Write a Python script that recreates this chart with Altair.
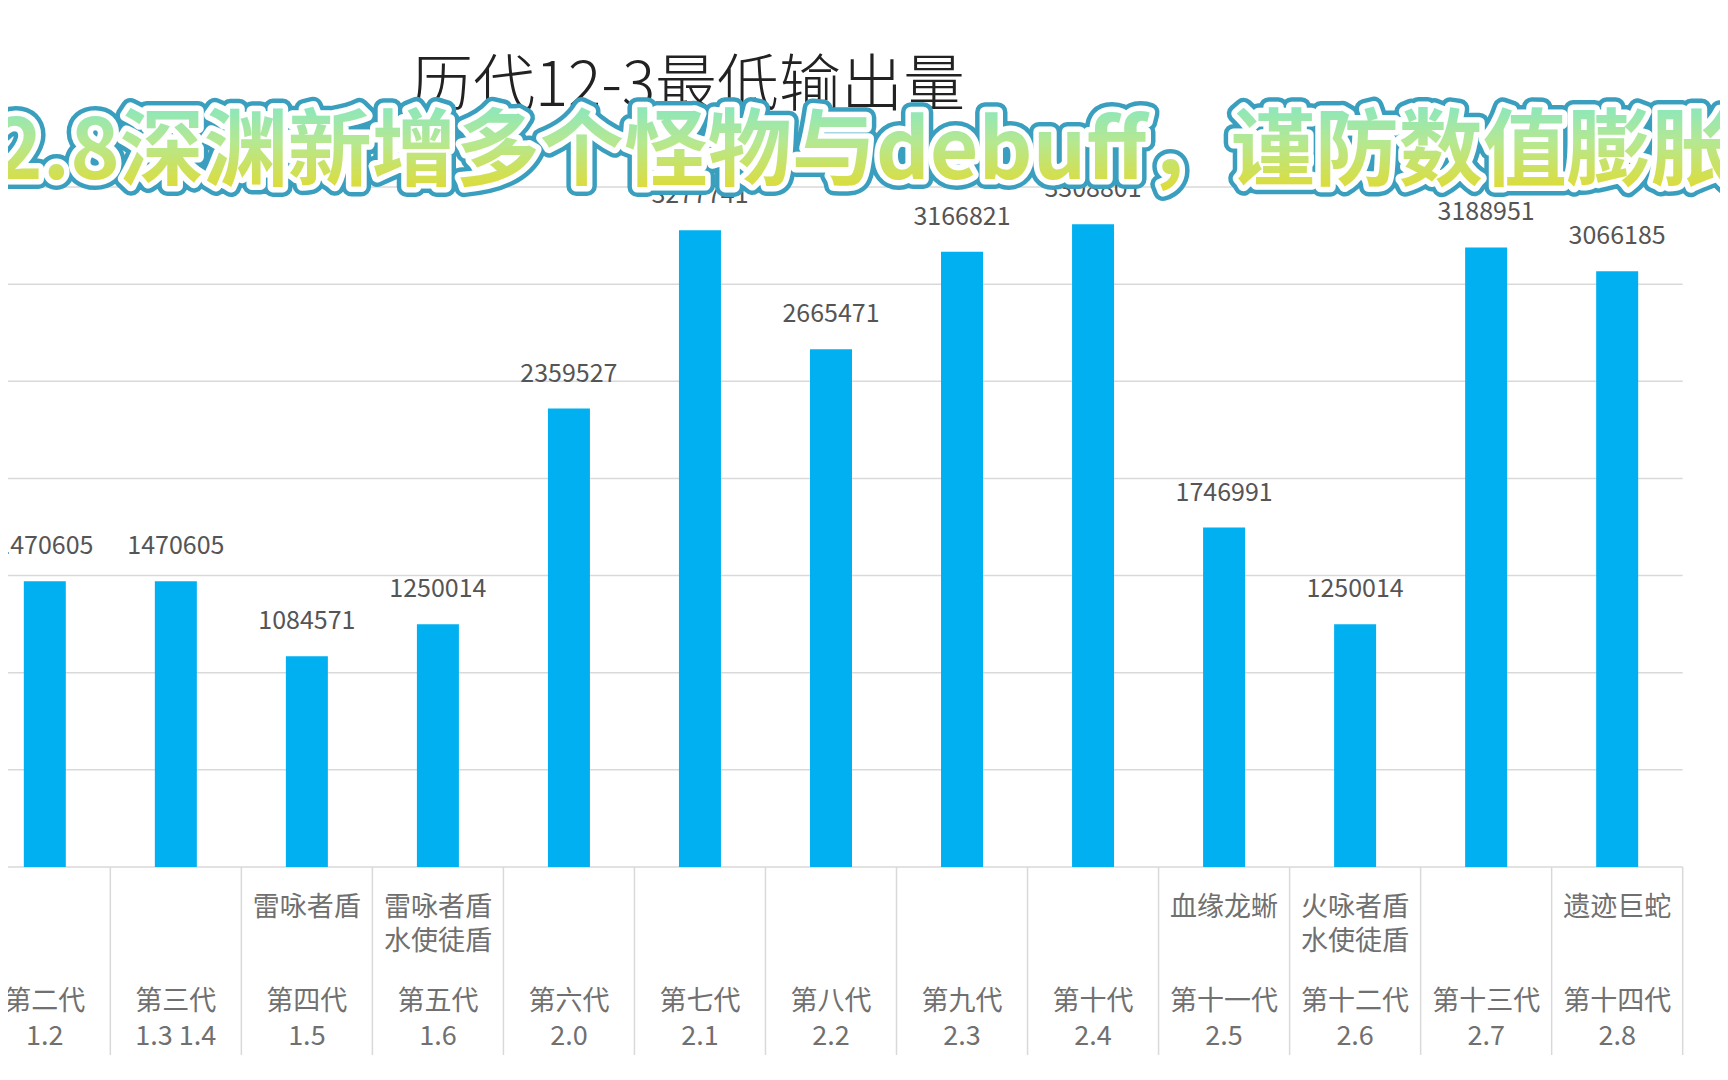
import altair as alt
import pandas as pd

# ---- data ----
generations = ["第二代", "第三代", "第四代", "第五代", "第六代", "第七代", "第八代",
               "第九代", "第十代", "第十一代", "第十二代", "第十三代", "第十四代"]
versions = ["1.2", "1.3 1.4", "1.5", "1.6", "2.0", "2.1", "2.2",
            "2.3", "2.4", "2.5", "2.6", "2.7", "2.8"]
monsters_line1 = ["", "", "雷咏者盾", "雷咏者盾", "", "", "", "", "", "血缘龙蜥", "火咏者盾", "", "遗迹巨蛇"]
monsters_line2 = ["", "", "", "水使徒盾", "", "", "", "", "", "", "水使徒盾", "", ""]
min_output = [1470605, 1470605, 1084571, 1250014, 2359527, 3277741, 2665471,
              3166821, 3308801, 1746991, 1250014, 3188951, 3066185]
grid_values = [0, 500000, 1000000, 1500000, 2000000, 2500000, 3000000, 3500000]
title_text = "历代12-3最低输出量"
banner_text = "2.8深渊新增多个怪物与debuff，谨防数值膨胀"

n = len(generations)
df = pd.DataFrame({
    "idx": list(range(n)),
    "gen": generations,
    "ver": versions,
    "m1": monsters_line1,
    "m2": monsters_line2,
    "value": min_output,
})
grid_df = pd.DataFrame({"v": grid_values, "x0": -0.5, "x1": n - 0.5})
sep_df = pd.DataFrame({"xs": [k + 0.5 for k in range(-1, n)]})
one = pd.DataFrame({"t": [title_text], "b": [banner_text]})

W = 1712
H = 680
xscale = alt.Scale(domain=[-0.2428, 12.7466], nice=False, zero=False)
yscale = alt.Scale(domain=[0, 3500000], nice=False, zero=True)

X = alt.X("idx:Q", scale=xscale, axis=None)
Y = alt.Y("value:Q", scale=yscale, axis=None)

FONT = "Noto Sans CJK SC"

grid = alt.Chart(grid_df).mark_rule(color="#d9d9d9", strokeWidth=1.5).encode(
    x=alt.X("x0:Q", scale=xscale, axis=None),
    x2="x1:Q",
    y=alt.Y("v:Q", scale=yscale, axis=None),
)

seps = alt.Chart(sep_df).mark_rule(color="#d9d9d9", strokeWidth=1.5).encode(
    x=alt.X("xs:Q", scale=xscale, axis=None),
    y=alt.value(H),
    y2=alt.value(868),
)

bars = alt.Chart(df).mark_bar(color="#00b0f0", size=42).encode(x=X, y=Y)

labels = alt.Chart(df).mark_text(
    font=FONT, fontSize=25, color="#555555", baseline="middle", dy=-35
).encode(x=X, y=Y, text=alt.Text("value:Q", format="d"))

def row(field, ypx, color="#707070", size=27):
    return alt.Chart(df).mark_text(
        font=FONT, fontSize=size, color=color, baseline="middle"
    ).encode(x=X, y=alt.value(ypx), text=f"{field}:N")

m1 = row("m1", 721)
m2 = row("m2", 755)
gen = row("gen", 815)
ver = row("ver", 850)

title = alt.Chart(one).mark_text(
    font=FONT, fontSize=62, color="#222222", baseline="middle", fontWeight=300
).encode(x=alt.value(680), y=alt.value(-100), text="t:N")

grad = alt.LinearGradient(
    gradient="linear",
    stops=[
        alt.GradientStop(color="#6fe6dc", offset=0),
        alt.GradientStop(color="#b6e890", offset=0.5),
        alt.GradientStop(color="#ead81c", offset=1),
    ],
    x1=0, x2=0, y1=0, y2=1,
)

banner_kw = dict(font=FONT, fontSize=84, fontWeight="bold", baseline="middle", align="center")
bx, by = 856, -33
banner_outer = alt.Chart(one).mark_text(
    stroke="#3a9fbe", strokeWidth=20, strokeJoin="round", fill="#3a9fbe", **banner_kw
).encode(x=alt.value(bx), y=alt.value(by), text="b:N")
banner_white = alt.Chart(one).mark_text(
    stroke="#ffffff", strokeWidth=11, strokeJoin="round", fill="#ffffff", **banner_kw
).encode(x=alt.value(bx), y=alt.value(by), text="b:N")
banner_fill = alt.Chart(one).mark_text(fill=grad, **banner_kw).encode(
    x=alt.value(bx), y=alt.value(by), text="b:N"
)

chart = alt.layer(
    grid, seps, bars, labels, m1, m2, gen, ver, title,
    banner_outer, banner_white, banner_fill
).properties(
    width=W,
    height=H,
    autosize=alt.AutoSizeParams(type="none"),
    padding={"left": 0, "top": 179, "right": 0, "bottom": 199},
    background="white",
).configure_view(stroke=None)

chart.save("out.html", embed_options={"renderer": "svg", "actions": False})
